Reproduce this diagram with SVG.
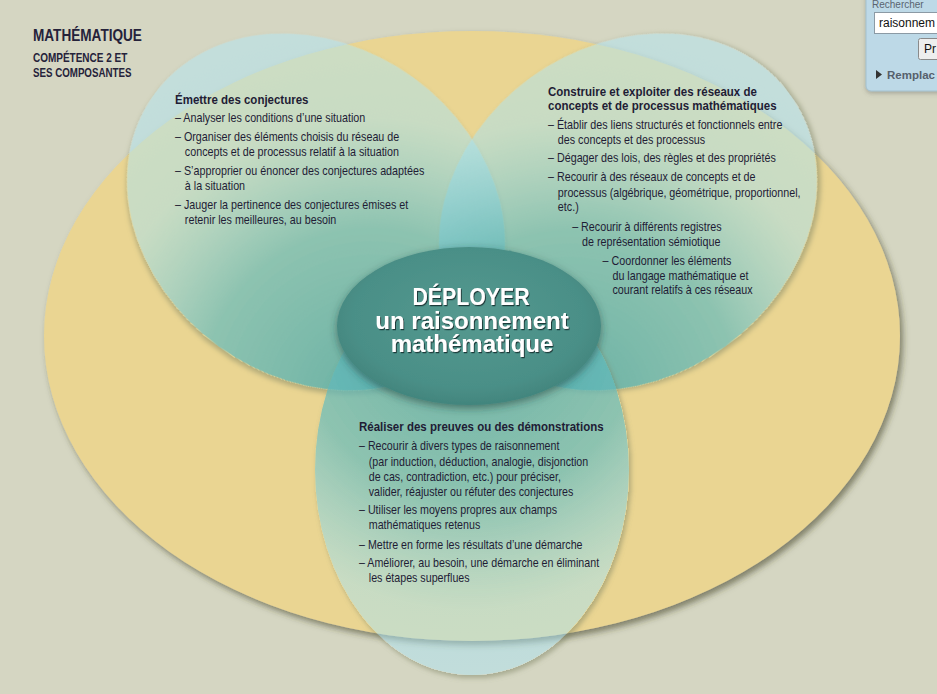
<svg xmlns="http://www.w3.org/2000/svg" width="937" height="694" viewBox="0 0 937 694">
<defs>
<style>
.t{font-family:"Liberation Sans",Arial,sans-serif;font-size:12px;fill:#1f1c35}
.h{font-family:"Liberation Sans",Arial,sans-serif;font-size:12.5px;font-weight:bold;fill:#1f1c35}
.ttl{font-family:"Liberation Sans",Arial,sans-serif;font-weight:bold;fill:#25223a}
.ctr{font-family:"Liberation Sans",Arial,sans-serif;font-size:24px;font-weight:bold;fill:#ffffff;text-anchor:middle}
.ui{font-family:"Liberation Sans",Arial,sans-serif}
.circ{fill:url(#cg)}
</style>
<radialGradient id="cg" gradientUnits="userSpaceOnUse" cx="470" cy="330" r="370">
<stop offset="0" stop-color="#4aa8a8" stop-opacity="0.8"/>
<stop offset="0.46" stop-color="#65bbbd" stop-opacity="0.7"/>
<stop offset="0.76" stop-color="#a7e3f4" stop-opacity="0.5"/>
<stop offset="1" stop-color="#b2e7f4" stop-opacity="0.5"/>
</radialGradient>
<radialGradient id="cc" cx="0.5" cy="0.45" r="0.55">
<stop offset="0" stop-color="#55998f"/>
<stop offset="0.8" stop-color="#4a8f87"/>
<stop offset="1" stop-color="#42857d"/>
</radialGradient>
<filter id="ysh" x="-5%" y="-5%" width="112%" height="115%">
<feDropShadow dx="3" dy="4" stdDeviation="3" flood-color="#3b3a22" flood-opacity="0.55"/>
</filter>
<filter id="csh" x="-10%" y="-10%" width="125%" height="125%">
<feComponentTransfer in="SourceAlpha" result="solid"><feFuncA type="linear" slope="20"/></feComponentTransfer>
<feGaussianBlur in="solid" stdDeviation="2.5" result="b"/>
<feOffset in="b" dx="2" dy="3" result="o"/>
<feComposite in="o" in2="solid" operator="out" result="sh"/>
<feColorMatrix in="sh" type="matrix" values="0 0 0 0 0.2  0 0 0 0 0.22  0 0 0 0 0.12  0 0 0 0.5 0" result="shc"/>
<feMerge><feMergeNode in="shc"/><feMergeNode in="SourceGraphic"/></feMerge>
</filter>
<filter id="esh" x="-15%" y="-15%" width="130%" height="140%">
<feDropShadow dx="0" dy="3" stdDeviation="4" flood-color="#1f3b36" flood-opacity="0.55"/>
</filter>
<filter id="tsh" x="-5%" y="-20%" width="110%" height="140%">
<feDropShadow dx="1" dy="1.2" stdDeviation="0.7" flood-color="#143330" flood-opacity="0.9"/>
</filter>
<filter id="psh" x="-10%" y="-10%" width="130%" height="130%">
<feDropShadow dx="0" dy="2" stdDeviation="2" flood-color="#555" flood-opacity="0.35"/>
</filter>
</defs>

<rect width="937" height="694" fill="#d5d6c2"/>

<g id="title">
<text class="ttl" transform="translate(33,41) scale(0.8,1)" font-size="17">MATHÉMATIQUE</text>
<text class="ttl" transform="translate(33,62) scale(0.8,1)" font-size="12.5">COMPÉTENCE 2 ET</text>
<text class="ttl" transform="translate(33,77) scale(0.78,1)" font-size="12.5">SES COMPOSANTES</text>
</g>

<g id="competence">
<ellipse cx="472" cy="336" rx="428" ry="305" fill="#ead592" filter="url(#ysh)"/>
</g>

<g id="emettre-shape">
<ellipse class="circ" cx="316" cy="212" rx="200" ry="166" transform="rotate(36 316 212)" filter="url(#csh)"/>
</g>
<g id="construire-shape">
<ellipse class="circ" cx="628" cy="212" rx="200" ry="166" transform="rotate(-36 628 212)" filter="url(#csh)"/>
</g>
<g id="realiser-shape">
<ellipse class="circ" cx="472" cy="470" rx="157" ry="205" filter="url(#csh)"/>
</g>

<g id="deployer">
<ellipse cx="469" cy="326" rx="132" ry="79" fill="url(#cc)" filter="url(#esh)"/>
<g filter="url(#tsh)">
<text class="ctr" x="471" y="305" textLength="117" lengthAdjust="spacingAndGlyphs">DÉPLOYER</text>
<text class="ctr" x="472" y="329">un raisonnement</text>
<text class="ctr" x="472" y="352">mathématique</text>
</g>
</g>

<g id="emettre">
<text class="h" transform="translate(175,104) scale(0.92,1)">Émettre des conjectures</text>
<text class="t" transform="translate(175,0) scale(0.895,1)">
<tspan x="0" y="122">– Analyser les conditions d’une situation</tspan>
<tspan x="0" y="141">– Organiser des éléments choisis du réseau de</tspan>
<tspan x="11" y="156">concepts et de processus relatif à la situation</tspan>
<tspan x="0" y="175">– S’approprier ou énoncer des conjectures adaptées</tspan>
<tspan x="11" y="190">à la situation</tspan>
<tspan x="0" y="209">– Jauger la pertinence des conjectures émises et</tspan>
<tspan x="11" y="224">retenir les meilleures, au besoin</tspan>
</text>
</g>

<g id="construire">
<text class="h" transform="translate(548,0) scale(0.92,1)">
<tspan x="0" y="96">Construire et exploiter des réseaux de</tspan>
<tspan x="0" y="110">concepts et de processus mathématiques</tspan>
</text>
<text class="t" transform="translate(548,0) scale(0.895,1)">
<tspan x="0" y="129">– Établir des liens structurés et fonctionnels entre</tspan>
<tspan x="11" y="144">des concepts et des processus</tspan>
<tspan x="0" y="162">– Dégager des lois, des règles et des propriétés</tspan>
<tspan x="0" y="181">– Recourir à des réseaux de concepts et de</tspan>
<tspan x="11" y="197">processus (algébrique, géométrique, proportionnel,</tspan>
<tspan x="11" y="211">etc.)</tspan>
<tspan x="27" y="231">– Recourir à différents registres</tspan>
<tspan x="38" y="246">de représentation sémiotique</tspan>
<tspan x="61" y="265">– Coordonner les éléments</tspan>
<tspan x="72" y="280">du langage mathématique et</tspan>
<tspan x="72" y="294">courant relatifs à ces réseaux</tspan>
</text>
</g>

<g id="realiser">
<text class="h" transform="translate(359,431) scale(0.92,1)">Réaliser des preuves ou des démonstrations</text>
<text class="t" transform="translate(359,0) scale(0.89,1)">
<tspan x="0" y="450">– Recourir à divers types de raisonnement</tspan>
<tspan x="11" y="466">(par induction, déduction, analogie, disjonction</tspan>
<tspan x="11" y="481">de cas, contradiction, etc.) pour préciser,</tspan>
<tspan x="11" y="496">valider, réajuster ou réfuter des conjectures</tspan>
<tspan x="0" y="514">– Utiliser les moyens propres aux champs</tspan>
<tspan x="11" y="529">mathématiques retenus</tspan>
<tspan x="0" y="549">– Mettre en forme les résultats d’une démarche</tspan>
<tspan x="0" y="567">– Améliorer, au besoin, une démarche en éliminant</tspan>
<tspan x="11" y="582">les étapes superflues</tspan>
</text>
</g>

<g id="connectors"></g>

<g id="search-panel">
<rect x="866" y="-10" width="90" height="101" rx="5" fill="#bdd9e7" stroke="#a3c0cf" filter="url(#psh)"/>
<text class="ui" x="872" y="8" font-size="10" fill="#5a6470">Rechercher</text>
<rect x="874.5" y="12.5" width="80" height="21" fill="#ffffff" stroke="#8b9aa5"/>
<text class="ui" x="879" y="27" font-size="12" fill="#111">raisonnem</text>
<rect x="918.5" y="38.5" width="40" height="21" rx="2" fill="#eeeeee" stroke="#8a8a8a"/>
<text class="ui" x="924" y="53" font-size="12" fill="#111">Pr</text>
<polygon points="876,70 882,74.5 876,79" fill="#333"/>
<text class="ui" x="887" y="79" font-size="11.5" fill="#56606c" font-weight="bold">Remplac</text>
</g>
</svg>
